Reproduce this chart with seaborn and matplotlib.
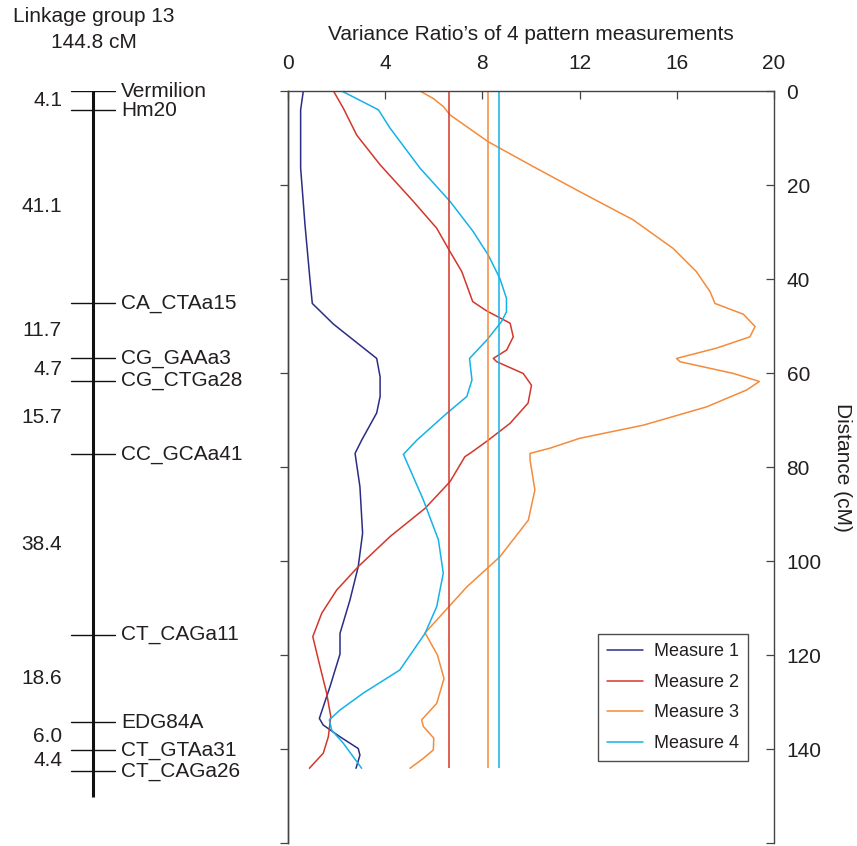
import numpy as np
import pandas as pd
import matplotlib
matplotlib.use("Agg")
import matplotlib.pyplot as plt
import seaborn as sns

sns.set_style("white")
plt.rcParams["font.family"] = ["Liberation Sans", "DejaVu Sans"]
TXT = "#231f20"

# ---------------------------------------------------------------------------
# datos
# ---------------------------------------------------------------------------
markers = ["Vermilion", "Hm20", "CA_CTAa15", "CG_GAAa3", "CG_CTGa28",
           "CC_GCAa41", "CT_CAGa11", "EDG84A", "CT_GTAa31", "CT_CAGa26"]
intervals = [4.1, 41.1, 11.7, 4.7, 15.7, 38.4, 18.6, 6.0, 4.4]
total_cm = 144.8

m1_x = [0.63, 0.52, 0.52, 0.70, 0.90, 1.00, 1.87, 3.65, 3.79, 3.79, 3.65, 3.03,
        2.76, 2.96, 3.07, 2.89, 2.55, 2.14, 2.14, 1.73, 1.29, 1.45, 2.14, 2.89,
        2.96, 2.80]
m1_y = [0, 4.0, 16.4, 28.5, 39.9, 45.2, 49.6, 56.9, 60.8, 65.0, 68.5, 74.3,
        77.1, 84.2, 94.1, 101.2, 108.3, 115.4, 119.8, 126.7, 133.5, 134.9, 137.4,
        139.9, 141.3, 144.1]

m2_x = [1.87, 2.28, 2.83, 3.79, 5.16, 6.12, 6.67, 7.15, 7.60, 8.18, 9.14, 9.27,
        9.00, 8.45, 8.59, 9.68, 10.02, 9.88, 9.14, 8.24, 7.49, 7.28, 6.67, 5.64,
        4.20, 2.89, 2.00, 1.39, 1.02, 1.32, 1.59, 1.76, 1.66, 1.45, 0.88]
m2_y = [0, 3.7, 9.4, 15.7, 23.5, 29.2, 34.2, 38.4, 44.8, 46.8, 49.4, 52.3,
        55.1, 56.9, 57.6, 60.1, 62.6, 66.4, 70.7, 74.3, 77.1, 77.8, 83.1, 88.8,
        94.8, 101.2, 106.2, 111.1, 116.1, 122.5, 128.1, 133.1, 137.4, 140.9, 144.1]

m3_x = [5.43, 5.98, 6.39, 6.67, 8.24, 10.10, 12.00, 14.20, 15.85, 16.80, 17.37,
        17.57, 18.74, 19.22, 19.01, 17.64, 15.99, 16.13, 18.33, 19.40, 18.88,
        17.23, 14.62, 12.00, 10.78, 9.96, 9.96, 10.16, 9.89, 8.72, 7.36, 5.64,
        6.15, 6.42, 6.12, 5.50, 5.57, 6.00, 5.98, 5.57, 5.02]
m3_y = [0, 1.6, 3.3, 5.1, 10.8, 16.1, 21.4, 27.4, 33.5, 38.4, 42.7,
        45.2, 47.5, 50.1, 52.3, 54.7, 56.9, 57.6, 60.1, 61.8, 63.6,
        67.2, 71.1, 73.9, 76.0, 77.1, 78.5, 84.9, 91.3, 99.1, 105.5, 115.3,
        120.0, 125.0, 130.3, 133.8, 135.2, 137.7, 140.2, 142.0, 144.1]

m4_x = [2.21, 3.72, 4.20, 5.43, 6.67, 7.62, 8.24, 8.72, 8.99, 8.99, 8.78, 8.18,
        7.47, 7.57, 7.36, 6.53, 5.30, 4.75, 5.57, 6.19, 6.39, 6.12, 5.64, 4.60,
        3.10, 2.14, 1.70, 1.80, 2.28, 3.03]
m4_y = [0, 4.0, 7.9, 16.4, 23.5, 29.9, 34.9, 39.9, 44.1, 47.0, 49.1, 53.0,
        56.9, 61.5, 65.0, 68.6, 74.3, 77.3, 87.0, 95.5, 102.6, 109.7, 115.4, 123.2,
        128.1, 131.7, 133.8, 136.0, 138.8, 144.1]

thresholds = [6.64, 8.24, 8.68]   # medidas 2, 3 y 4
series = ["Measure 1", "Measure 2", "Measure 3", "Measure 4"]
colors = ["#2a2d84", "#d2372b", "#f58b3a", "#14b2e8"]

x_ticks = [0, 4, 8, 12, 16, 20]
y_ticks = [0, 20, 40, 60, 80, 100, 120, 140, 160]
y_labels = ["0", "20", "40", "60", "80", "100", "120", "140", ""]

# ---------------------------------------------------------------------------
# figura
# ---------------------------------------------------------------------------
W, H = 857, 846
fig = plt.figure(figsize=(W / 100, H / 100), dpi=100)
bottom = 1 - 843 / H
height = (843 - 91) / H
ax = fig.add_axes([288 / W, bottom, (774 - 288) / W, height])
ax_map = fig.add_axes([0, bottom, 288 / W, height])

# curvas
datos = [(m1_x, m1_y), (m2_x, m2_y), (m3_x, m3_y), (m4_x, m4_y)]
for (xs, ys), nombre, c in zip(datos, series, colors):
    d = pd.DataFrame({"vr": xs, "dist": ys})
    sns.lineplot(data=d, x="vr", y="dist", sort=False, estimator=None,
                 color=c, lw=1.1, ax=ax, label=nombre)

for t, c in zip(thresholds, colors[1:]):
    ax.vlines(t, 0, 144.1, color=c, lw=1.1)

ax.set_xlim(0, 20)
ax.set_ylim(160, 0)
ax.xaxis.tick_top()
ax.xaxis.set_label_position("top")
ax.set_xticks(x_ticks)
ax.set_xticklabels([str(v) for v in x_ticks])
ax.yaxis.tick_right()
ax.yaxis.set_label_position("right")
ax.set_yticks(y_ticks)
ax.set_yticklabels(y_labels)
ax.tick_params(axis="both", direction="in", length=6, width=0.9,
               color="#444444", labelsize=15, labelcolor=TXT)
ax.tick_params(axis="x", pad=13)
ax.tick_params(axis="y", pad=9)
ax.set_xlabel("Variance Ratio\u2019s of 4 pattern measurements",
              fontsize=15, color=TXT, labelpad=10)
ax.set_ylabel("Distance (cM)", fontsize=15, color=TXT, rotation=270,
              labelpad=22)
for s in ["top", "left", "right"]:
    ax.spines[s].set_color("#444444")
    ax.spines[s].set_linewidth(1.0)
ax.spines["bottom"].set_visible(False)

sec = ax.secondary_yaxis("left")
sec.set_yticks(y_ticks)
sec.set_yticklabels([])
sec.tick_params(direction="out", length=6, width=0.9, color="#444444")
sec.spines["left"].set_color("#444444")
sec.spines["left"].set_linewidth(1.0)

leg = ax.legend(loc="lower right", bbox_to_anchor=(0.946, 0.109), fontsize=13,
                frameon=True, fancybox=False, edgecolor="#222222",
                handlelength=2.0, labelspacing=0.75, borderpad=0.5,
                handletextpad=0.6, borderaxespad=0)
leg.get_frame().set_linewidth(1.0)
for txt in leg.get_texts():
    txt.set_color(TXT)

# mapa de ligamiento
pos = np.concatenate([[0], np.cumsum(intervals)])
ax_map.set_xlim(0, 288)
ax_map.set_ylim(160, 0)
ax_map.axis("off")
ax_map.plot([93, 93], [-4.7, 150.2], color="#111111", lw=2.2,
            solid_capstyle="butt")
for p, nombre in zip(pos, markers):
    ax_map.plot([71, 115], [p, p], color="#111111", lw=1.0)
    ax_map.text(121, p, nombre, ha="left", va="center", fontsize=15, color=TXT)
for i, iv in enumerate(intervals):
    mid = (pos[i] + pos[i + 1]) / 2
    ax_map.text(62, mid, f"{iv:.1f}", ha="right", va="center", fontsize=15,
                color=TXT)

fig.text(94 / W, 1 - 17 / H, "Linkage group 13", ha="center", va="center",
         fontsize=15, color=TXT)
fig.text(94 / W, 1 - 42 / H, f"{total_cm:.1f} cM", ha="center",
         va="center", fontsize=15, color=TXT)

fig.savefig("out.png", dpi=100)
